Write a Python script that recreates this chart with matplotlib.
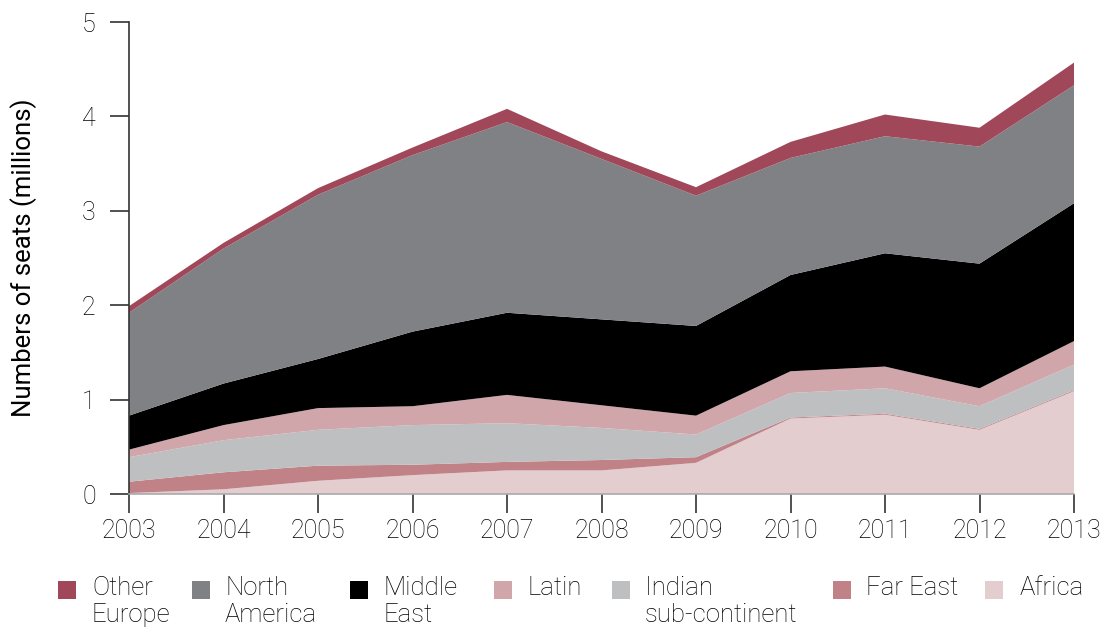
import matplotlib
matplotlib.use("Agg")
import matplotlib.pyplot as plt
from matplotlib.patches import Rectangle

years = [2003, 2004, 2005, 2006, 2007, 2008, 2009, 2010, 2011, 2012, 2013]

africa        = [0.01, 0.05, 0.14, 0.20, 0.25, 0.25, 0.33, 0.80, 0.84, 0.68, 1.09]
far_east      = [0.12, 0.18, 0.16, 0.11, 0.09, 0.11, 0.06, 0.01, 0.01, 0.01, 0.01]
indian        = [0.26, 0.34, 0.38, 0.42, 0.41, 0.34, 0.24, 0.26, 0.27, 0.24, 0.27]
latin         = [0.08, 0.16, 0.23, 0.20, 0.30, 0.24, 0.20, 0.23, 0.23, 0.19, 0.25]
middle_east   = [0.36, 0.44, 0.52, 0.79, 0.87, 0.91, 0.95, 1.02, 1.20, 1.32, 1.46]
north_america = [1.09, 1.43, 1.74, 1.87, 2.02, 1.70, 1.38, 1.24, 1.24, 1.24, 1.25]
other_europe  = [0.07, 0.06, 0.07, 0.08, 0.14, 0.08, 0.09, 0.17, 0.23, 0.20, 0.24]

series = [africa, far_east, indian, latin, middle_east, north_america, other_europe]
labels = ["Africa", "Far East", "Indian\nsub-continent", "Latin", "Middle\nEast",
          "North\nAmerica", "Other\nEurope"]
colors = ["#E3CDCF", "#C08287", "#BEBFC1", "#D0A6AA", "#000000", "#808185", "#A0485A"]

y_ticks = [0, 1, 2, 3, 4, 5]

plt.rcParams['font.family'] = ['Roboto', 'DejaVu Sans']
plt.rcParams['font.weight'] = 'light'
plt.rcParams['text.color'] = '#000000'

W, H = 1107, 628
fig = plt.figure(figsize=(W / 100, H / 100), dpi=100)
ax = fig.add_axes([129 / W, 1 - 494 / H, (1074 - 129) / W, (494 - 22) / H])

ax.stackplot(years, *series, colors=colors, linewidth=0)

ax.set_xlim(years[0], years[-1])
ax.set_ylim(0, 5)
ax.set_xticks(years)
ax.set_yticks(y_ticks)
ax.tick_params(axis='both', labelsize=18, length=14, width=1.2, color="#333333",
               direction='out', labelcolor='#000000')
ax.tick_params(axis='y', pad=10)
ax.tick_params(axis='x', pad=4)
for sp in ["top", "right"]:
    ax.spines[sp].set_visible(False)
ax.spines["left"].set_color("#333333")
ax.spines["left"].set_linewidth(1.2)
ax.spines["bottom"].set_color("#aaaaaa")
ax.spines["bottom"].set_linewidth(1.2)
ax.set_ylabel("Numbers of seats (millions)", fontsize=18.5, labelpad=32)

# Legend (manual layout, reversed order)
sq_x = [58, 192, 350, 494, 612, 833, 985]
txt_x = [92, 225, 383, 528, 645, 866, 1020]
for i, (lab, col) in enumerate(zip(labels[::-1], colors[::-1])):
    x0 = sq_x[i]
    fig.add_artist(Rectangle((x0 / W, 1 - 599 / H), 18 / W, 18 / H,
                             transform=fig.transFigure, facecolor=col, edgecolor='none'))
    fig.text(txt_x[i] / W, 1 - 576 / H, lab, fontsize=18.5, va='top', ha='left',
             linespacing=1.18)

fig.savefig("out.png", dpi=100)
